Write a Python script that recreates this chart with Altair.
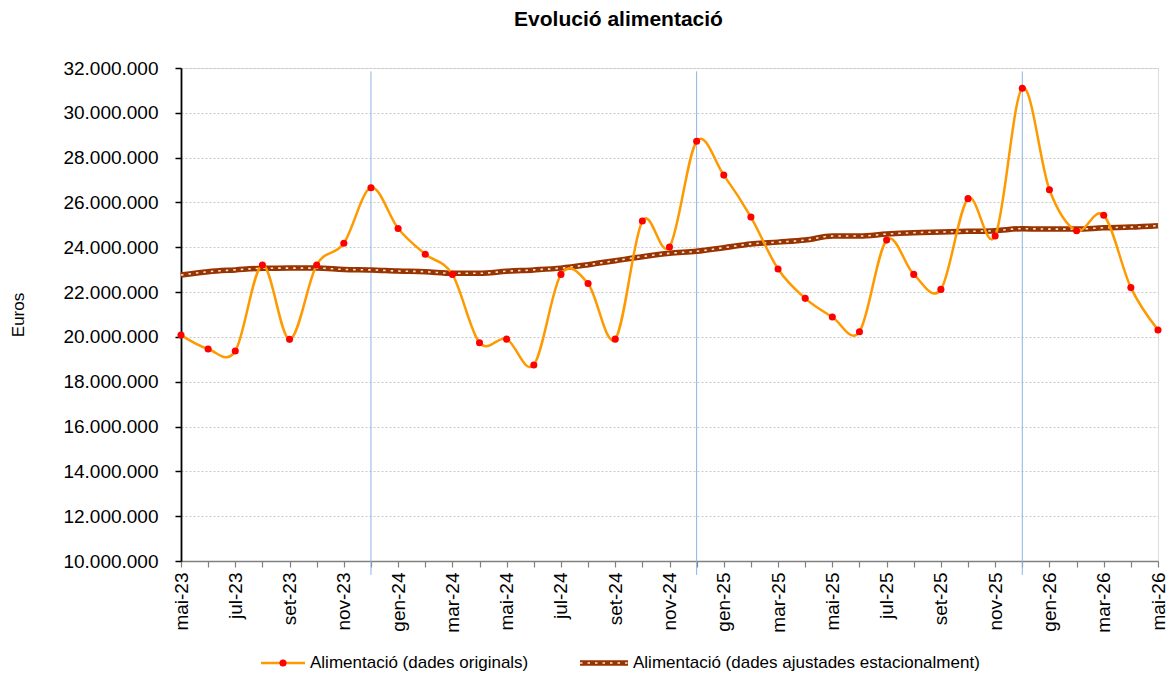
import json
import altair as alt
import pandas as pd

months = ["mai-23", "jun-23", "jul-23", "ago-23", "set-23", "oct-23", "nov-23", "des-23",
          "gen-24", "feb-24", "mar-24", "abr-24", "mai-24", "jun-24", "jul-24", "ago-24",
          "set-24", "oct-24", "nov-24", "des-24", "gen-25", "feb-25", "mar-25", "abr-25",
          "mai-25", "jun-25", "jul-25", "ago-25", "set-25", "oct-25", "nov-25", "des-25",
          "gen-26", "feb-26", "mar-26", "abr-26", "mai-26"]

# milions d'euros
original = [20.08, 19.46, 19.37, 23.21, 19.89, 23.21, 24.18, 26.66, 24.84, 23.69, 22.79, 19.74,
            19.90, 18.75, 22.79, 22.38, 19.90, 25.17, 24.01, 28.73, 27.22, 25.35, 23.03, 21.72,
            20.89, 20.23, 24.32, 22.79, 22.12, 26.17, 24.50, 31.10, 26.57, 24.74, 25.43, 22.20,
            20.31]
adjusted = [22.76, 22.91, 22.99, 23.06, 23.07, 23.07, 23.01, 22.99, 22.94, 22.91, 22.84, 22.84,
            22.93, 22.99, 23.07, 23.22, 23.40, 23.58, 23.73, 23.82, 23.98, 24.15, 24.23, 24.32,
            24.50, 24.50, 24.59, 24.65, 24.68, 24.71, 24.74, 24.83, 24.81, 24.81, 24.87, 24.90,
            24.96]
december_months = ["des-23", "des-24", "des-25"]
y_ticks = [10, 12, 14, 16, 18, 20, 22, 24, 26, 28, 30, 32]
legend_labels = ["Alimentació (dades originals)", "Alimentació (dades ajustades estacionalment)"]

df = pd.DataFrame({
    "idx": list(range(len(months))),
    "month": months,
    "original": [v * 1e6 for v in original],
    "adjusted": [v * 1e6 for v in adjusted],
})
dec_df = pd.DataFrame({
    "idx": [months.index(m) for m in december_months],
    "top": [31.85e6] * 3,
    "bottom": [9.38e6] * 3,
})

FONT = "Liberation Sans"
W, H = 977, 493

label_list = json.dumps([m if i % 2 == 0 else "" for i, m in enumerate(months)])
x_axis = alt.Axis(values=list(range(len(months))), labelExpr=f"{label_list}[datum.value]",
                  labelAngle=-90, labelAlign="right", labelBaseline="middle",
                  labelPadding=5, labelFontSize=19, labelFont=FONT, labelColor="#000000",
                  labelOverlap=False, labelFlush=False, domainColor="#808080", domainWidth=1.5,
                  tickColor="#808080", tickSize=6, tickWidth=1.2, grid=False, title=None)
x_scale = alt.Scale(domain=[0, len(months) - 1], nice=False, zero=False)

y_axis = alt.Axis(values=[v * 1e6 for v in y_ticks],
                  labelExpr="replace(format(datum.value, ',.0f'), regexp(',', 'g'), '.')",
                  labelFontSize=19, labelFont=FONT, labelColor="#000000", labelPadding=17,
                  domainColor="#000000", domainWidth=1.8, tickColor="#000000", tickSize=6,
                  tickWidth=1.5, grid=True, gridColor="#C8C8C8", gridDash=[2, 2], gridWidth=1,
                  title="Euros", titleFont=FONT, titleFontSize=17, titleFontWeight="normal",
                  titleColor="#000000", titleAngle=-90, titleX=-163, titleY=H / 2,
                  titleBaseline="middle", titleAlign="center")
y_scale = alt.Scale(domain=[10e6, 32e6], nice=False, zero=False)

X = alt.X("idx:Q", scale=x_scale, axis=x_axis)

base = alt.Chart(df)

dec_rules = alt.Chart(dec_df).mark_rule(color="#8DB4E2", strokeWidth=1).encode(
    x=X,
    y=alt.Y("top:Q", scale=y_scale, axis=y_axis),
    y2="bottom:Q",
)

adj_line = base.mark_line(color="#993300", strokeWidth=5.5, interpolate="monotone").encode(
    x=X, y=alt.Y("adjusted:Q", scale=y_scale, axis=y_axis))
adj_dash = base.mark_line(color="#F2E6DC", strokeWidth=1.6, strokeDash=[2.5, 5],
                          interpolate="monotone").encode(
    x=X, y=alt.Y("adjusted:Q", scale=y_scale, axis=y_axis))

orig_line = base.mark_line(color="#FF9900", strokeWidth=2.5, interpolate="cardinal").encode(
    x=X, y=alt.Y("original:Q", scale=y_scale, axis=y_axis))
orig_pts = base.mark_circle(color="#FF0000", size=50, opacity=1).encode(
    x=X, y=alt.Y("original:Q", scale=y_scale, axis=y_axis))

# manual legend below the chart
leg_df = pd.DataFrame({"label": [legend_labels[0]]})
leg_df2 = pd.DataFrame({"label": [legend_labels[1]]})
LY = 595
leg1_line = alt.Chart(leg_df).mark_rule(color="#FF9900", strokeWidth=2.5).encode(
    x=alt.value(80), x2=alt.value(124), y=alt.value(LY))
leg1_pt = alt.Chart(leg_df).mark_circle(color="#FF0000", size=50, opacity=1).encode(
    x=alt.value(102), y=alt.value(LY))
leg1_txt = alt.Chart(leg_df).mark_text(align="left", baseline="middle", font=FONT,
                                       fontSize=17, color="#000000").encode(
    x=alt.value(129), y=alt.value(LY), text="label:N")
leg2_line = alt.Chart(leg_df2).mark_rule(color="#993300", strokeWidth=5.5).encode(
    x=alt.value(399), x2=alt.value(447), y=alt.value(LY))
leg2_dash = alt.Chart(leg_df2).mark_rule(color="#F2E6DC", strokeWidth=1.6,
                                         strokeDash=[2.5, 5]).encode(
    x=alt.value(399), x2=alt.value(447), y=alt.value(LY))
leg2_txt = alt.Chart(leg_df2).mark_text(align="left", baseline="middle", font=FONT,
                                        fontSize=17, color="#000000").encode(
    x=alt.value(452), y=alt.value(LY), text="label:N")

chart = alt.layer(
    dec_rules, adj_line, adj_dash, orig_line, orig_pts,
    leg1_line, leg1_pt, leg1_txt, leg2_line, leg2_dash, leg2_txt,
).properties(
    width=W, height=H,
    title=alt.TitleParams("Evolució alimentació", font=FONT, fontSize=21, fontWeight="bold",
                          color="#000000", anchor="middle", frame="group", dx=-51, offset=29),
    autosize=alt.AutoSizeParams(type="none"),
    padding={"left": 173, "top": 60, "right": 10, "bottom": 110},
).configure_view(stroke=None).configure(background="#FFFFFF")

chart.save("out.html", embed_options={"renderer": "svg", "actions": False})
